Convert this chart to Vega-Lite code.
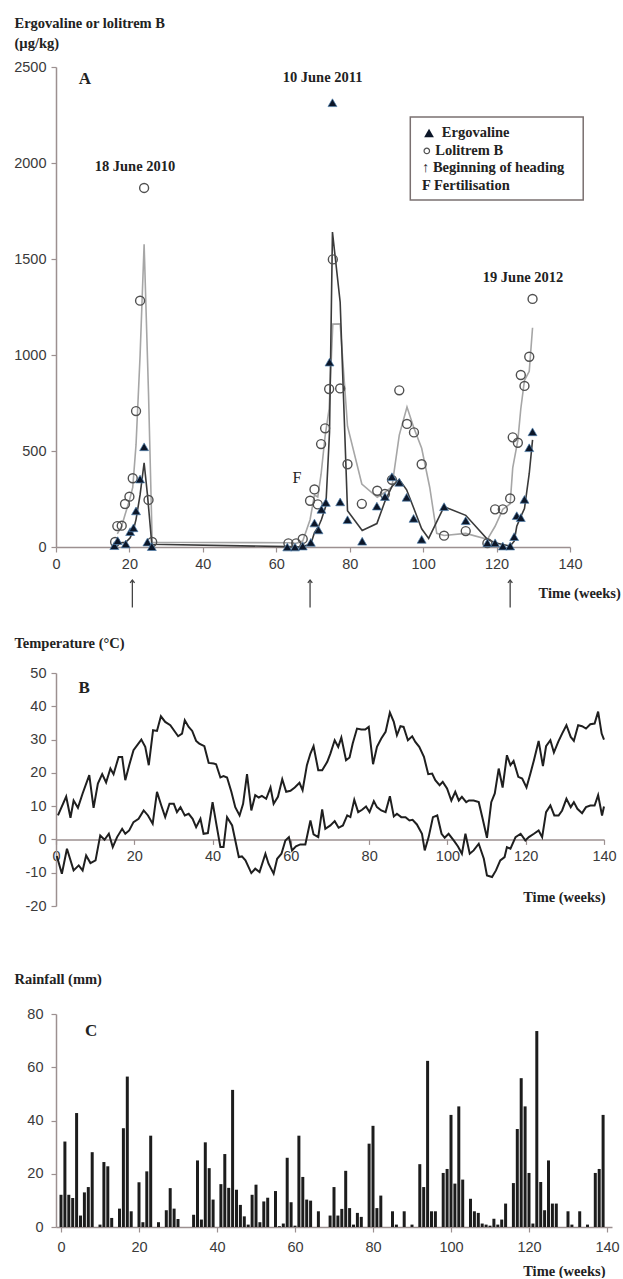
{
  "$schema": "https://vega.github.io/schema/vega-lite/v6.json",
  "background": "white",
  "padding": {"left": 13, "top": 15, "right": 0, "bottom": 0},
  "config": {
    "view": {"stroke": null},
    "axis": {
      "domainColor": "#9c9090", "tickColor": "#9c9090", "domainWidth": 1.5, "tickWidth": 1.2, "tickSize": 5,
      "labelFont": "Liberation Sans", "labelFontSize": 14.5, "labelColor": "#3a3a3a", "grid": false,
      "titleFont": "Liberation Serif", "titleFontSize": 14.5, "titleFontWeight": "bold", "titleColor": "#222222",
      "labelFlush": false, "labelOverlap": false, "labelPadding": 5,
      "labelExpr": "datum.value < 0 ? '-' + abs(datum.value) : '' + datum.value"
    },
    "text": {"font": "Liberation Serif", "fontSize": 14.5, "fontWeight": "bold", "color": "#222222"}
  },
  "datasets": {
    "ergoPts": [
      {"week":15.9,"value":7},{"week":16.8,"value":33},{"week":19.0,"value":16},{"week":20.2,"value":80},{"week":21.1,"value":100},{"week":21.8,"value":188},{"week":22.9,"value":354},{"week":24.0,"value":522},{"week":24.9,"value":26},{"week":26.1,"value":2},
      {"week":63.0,"value":0},{"week":65.1,"value":0},{"week":67.2,"value":5},{"week":69.4,"value":24},{"week":70.4,"value":125},{"week":71.5,"value":89},{"week":72.3,"value":196},{"week":73.5,"value":232},{"week":74.5,"value":963},{"week":75.3,"value":2314},{"week":77.4,"value":235},{"week":79.4,"value":142},{"week":83.4,"value":30},{"week":87.4,"value":213},{"week":89.6,"value":263},{"week":91.5,"value":366},{"week":93.5,"value":337},{"week":95.5,"value":259},{"week":97.4,"value":149},{"week":99.6,"value":40},{"week":105.7,"value":210},{"week":111.6,"value":137},{"week":117.5,"value":22},{"week":119.6,"value":22},{"week":121.7,"value":5},{"week":123.7,"value":5},{"week":124.8,"value":54},{"week":125.5,"value":163},{"week":126.6,"value":153},{"week":127.6,"value":248},{"week":128.9,"value":517},{"week":129.8,"value":600}
    ],
    "loliPts": [
      {"week":16.1,"value":26},{"week":16.7,"value":109},{"week":17.9,"value":111},{"week":18.8,"value":224},{"week":20.0,"value":262},{"week":20.9,"value":358},{"week":21.8,"value":708},{"week":22.9,"value":1283},{"week":24.0,"value":1870},{"week":25.2,"value":245},{"week":26.2,"value":26},
      {"week":63.3,"value":19},{"week":65.4,"value":19},{"week":67.2,"value":42},{"week":69.2,"value":241},{"week":70.4,"value":300},{"week":71.3,"value":222},{"week":72.2,"value":536},{"week":73.3,"value":618},{"week":74.4,"value":823},{"week":75.4,"value":1498},{"week":77.4,"value":826},{"week":79.4,"value":431},{"week":83.3,"value":225},{"week":87.5,"value":293},{"week":89.6,"value":276},{"week":91.5,"value":350},{"week":93.5,"value":816},{"week":95.6,"value":641},{"week":97.5,"value":597},{"week":99.6,"value":431},{"week":105.7,"value":59},{"week":111.6,"value":83},{"week":117.5,"value":20},{"week":119.6,"value":196},{"week":121.7,"value":196},{"week":123.7,"value":253},{"week":124.4,"value":571},{"week":125.8,"value":543},{"week":126.6,"value":896},{"week":127.6,"value":839},{"week":128.9,"value":991},{"week":129.8,"value":1292}
    ],
    "ergoLine": [
      {"week":16.8,"value":20},{"week":19.0,"value":25},{"week":20.2,"value":48},{"week":21.1,"value":90},{"week":21.8,"value":144},{"week":22.9,"value":271},{"week":24.0,"value":438},{"week":24.9,"value":274},{"week":26.1,"value":14},{"week":63.0,"value":2},{"week":65.1,"value":1},{"week":67.2,"value":3},{"week":69.4,"value":15},{"week":70.4,"value":75},{"week":71.5,"value":107},{"week":72.3,"value":143},{"week":73.5,"value":214},{"week":74.5,"value":598},{"week":75.3,"value":1640},{"week":77.4,"value":1275},{"week":79.4,"value":189},{"week":83.4,"value":86},{"week":87.4,"value":122},{"week":89.6,"value":238},{"week":91.5,"value":315},{"week":93.5,"value":352},{"week":95.5,"value":298},{"week":97.4,"value":204},{"week":99.6,"value":95},{"week":101.5,"value":45},{"week":105.7,"value":210},{"week":111.6,"value":165},{"week":117.5,"value":40},{"week":119.6,"value":22},{"week":121.7,"value":13},{"week":123.7,"value":5},{"week":124.8,"value":30},{"week":125.5,"value":108},{"week":126.6,"value":158},{"week":127.6,"value":200},{"week":128.9,"value":383},{"week":129.8,"value":558}
    ],
    "loliLine": [
      {"week":16.7,"value":68},{"week":17.9,"value":110},{"week":18.8,"value":168},{"week":20.0,"value":243},{"week":20.9,"value":310},{"week":21.8,"value":533},{"week":22.9,"value":996},{"week":24.0,"value":1577},{"week":25.2,"value":800},{"week":26.2,"value":25},{"week":63.3,"value":22},{"week":65.4,"value":19},{"week":67.2,"value":31},{"week":69.2,"value":142},{"week":70.4,"value":271},{"week":71.3,"value":261},{"week":72.2,"value":379},{"week":73.3,"value":577},{"week":74.4,"value":721},{"week":75.4,"value":1161},{"week":77.4,"value":1162},{"week":79.4,"value":629},{"week":83.3,"value":328},{"week":87.5,"value":259},{"week":89.6,"value":285},{"week":91.5,"value":313},{"week":93.5,"value":583},{"week":95.6,"value":729},{"week":97.5,"value":619},{"week":99.6,"value":514},{"week":101.8,"value":310},{"week":103.7,"value":71},{"week":105.7,"value":60},{"week":111.6,"value":71},{"week":117.5,"value":40},{"week":119.6,"value":108},{"week":121.7,"value":196},{"week":123.7,"value":225},{"week":124.4,"value":412},{"week":125.8,"value":557},{"week":126.6,"value":720},{"week":127.6,"value":868},{"week":128.9,"value":915},{"week":129.8,"value":1142}
    ],
    "datesA": [
      {"week":21.5,"value":1979,"label":"18 June 2010"},
      {"week":72.6,"value":2443,"label":"10 June 2011"},
      {"week":127.2,"value":1399,"label":"19 June 2012"}
    ],
    "panelA": [{"week":7.9,"value":2438,"label":"A"}],
    "fertA": [{"week":65.6,"value":358,"label":"F"}],
    "arrowsA": [{"week":20.8,"value":-172,"value2":-315},{"week":69.2,"value":-172,"value2":-315},{"week":123.7,"value":-172,"value2":-315}],
    "legendBox": [{"week":96.5,"week2":143.6,"value":1807,"value2":2240}],
    "legendText": [
      {"week":105.1,"value":2156,"label":"Ergovaline"},
      {"week":103.3,"value":2063,"label":"Lolitrem B"},
      {"week":99.7,"value":1974,"label":"↑ Beginning of heading"},
      {"week":99.7,"value":1880,"label":"F Fertilisation"}
    ],
    "legendTri": [{"week":101.6,"value":2156}],
    "legendCirc": [{"week":101.0,"value":2063}],
    "panelB": [{"week":7.2,"value":45.5,"label":"B"}],
    "panelC": [{"week":7.7,"value":73.7,"label":"C"}],
    "temp": [
      {"week":0.5,"value":7.2,"series":"max"},{"week":2.6,"value":12.9,"series":"max"},{"week":3.7,"value":6.5,"series":"max"},{"week":4.5,"value":11.7,"series":"max"},{"week":5.6,"value":9.5,"series":"max"},{"week":6.8,"value":13.8,"series":"max"},{"week":8.5,"value":19.3,"series":"max"},{"week":9.6,"value":9.5,"series":"max"},{"week":10.7,"value":16.8,"series":"max"},{"week":11.8,"value":19.6,"series":"max"},{"week":12.8,"value":17.1,"series":"max"},{"week":13.9,"value":21.3,"series":"max"},{"week":14.7,"value":19.6,"series":"max"},{"week":16.0,"value":24.8,"series":"max"},{"week":16.9,"value":24.8,"series":"max"},{"week":17.7,"value":17.8,"series":"max"},{"week":18.7,"value":22.3,"series":"max"},{"week":19.8,"value":26.8,"series":"max"},{"week":21.8,"value":30.0,"series":"max"},{"week":22.8,"value":27.8,"series":"max"},{"week":23.7,"value":22.3,"series":"max"},{"week":24.8,"value":32.8,"series":"max"},{"week":25.8,"value":32.6,"series":"max"},{"week":26.8,"value":37.0,"series":"max"},{"week":27.9,"value":35.3,"series":"max"},{"week":29.2,"value":34.3,"series":"max"},{"week":31.2,"value":31.0,"series":"max"},{"week":32.2,"value":31.8,"series":"max"},{"week":32.9,"value":35.8,"series":"max"},{"week":33.9,"value":33.8,"series":"max"},{"week":34.8,"value":32.6,"series":"max"},{"week":35.8,"value":29.6,"series":"max"},{"week":36.6,"value":28.8,"series":"max"},{"week":37.9,"value":28.0,"series":"max"},{"week":39.0,"value":23.0,"series":"max"},{"week":40.3,"value":22.8,"series":"max"},{"week":40.9,"value":22.6,"series":"max"},{"week":42.0,"value":18.6,"series":"max"},{"week":42.8,"value":19.0,"series":"max"},{"week":43.7,"value":18.6,"series":"max"},{"week":44.8,"value":14.3,"series":"max"},{"week":45.8,"value":9.7,"series":"max"},{"week":46.9,"value":7.2,"series":"max"},{"week":47.8,"value":10.7,"series":"max"},{"week":48.8,"value":19.6,"series":"max"},{"week":49.9,"value":8.7,"series":"max"},{"week":50.9,"value":13.3,"series":"max"},{"week":51.8,"value":12.6,"series":"max"},{"week":52.6,"value":13.1,"series":"max"},{"week":53.7,"value":12.2,"series":"max"},{"week":54.8,"value":15.6,"series":"max"},{"week":55.6,"value":10.7,"series":"max"},{"week":56.7,"value":12.8,"series":"max"},{"week":57.8,"value":18.1,"series":"max"},{"week":58.8,"value":14.3,"series":"max"},{"week":59.9,"value":14.6,"series":"max"},{"week":61.0,"value":15.6,"series":"max"},{"week":62.2,"value":17.0,"series":"max"},{"week":63.0,"value":14.8,"series":"max"},{"week":64.1,"value":22.3,"series":"max"},{"week":65.0,"value":25.8,"series":"max"},{"week":65.8,"value":28.0,"series":"max"},{"week":67.0,"value":20.8,"series":"max"},{"week":68.0,"value":20.8,"series":"max"},{"week":69.3,"value":23.3,"series":"max"},{"week":70.1,"value":25.8,"series":"max"},{"week":71.2,"value":29.8,"series":"max"},{"week":72.1,"value":27.8,"series":"max"},{"week":72.9,"value":30.6,"series":"max"},{"week":74.1,"value":23.8,"series":"max"},{"week":75.0,"value":24.6,"series":"max"},{"week":75.8,"value":28.8,"series":"max"},{"week":76.9,"value":33.3,"series":"max"},{"week":78.0,"value":33.0,"series":"max"},{"week":79.0,"value":33.0,"series":"max"},{"week":79.9,"value":33.8,"series":"max"},{"week":81.0,"value":22.6,"series":"max"},{"week":82.0,"value":27.8,"series":"max"},{"week":83.1,"value":30.3,"series":"max"},{"week":84.2,"value":32.3,"series":"max"},{"week":85.3,"value":38.1,"series":"max"},{"week":86.3,"value":35.3,"series":"max"},{"week":87.1,"value":31.3,"series":"max"},{"week":88.0,"value":34.0,"series":"max"},{"week":88.8,"value":33.8,"series":"max"},{"week":89.9,"value":29.8,"series":"max"},{"week":91.0,"value":31.0,"series":"max"},{"week":91.8,"value":29.3,"series":"max"},{"week":92.8,"value":27.8,"series":"max"},{"week":94.0,"value":24.8,"series":"max"},{"week":95.1,"value":19.6,"series":"max"},{"week":96.1,"value":19.8,"series":"max"},{"week":96.9,"value":17.8,"series":"max"},{"week":98.0,"value":16.3,"series":"max"},{"week":98.8,"value":17.3,"series":"max"},{"week":99.9,"value":15.3,"series":"max"},{"week":101.0,"value":11.7,"series":"max"},{"week":102.0,"value":14.3,"series":"max"},{"week":102.9,"value":11.7,"series":"max"},{"week":103.7,"value":12.8,"series":"max"},{"week":104.8,"value":11.2,"series":"max"},{"week":105.5,"value":11.7,"series":"max"},{"week":106.7,"value":11.7,"series":"max"},{"week":108.0,"value":11.2,"series":"max"},{"week":109.0,"value":6.2,"series":"max"},{"week":110.1,"value":0.5,"series":"max"},{"week":111.2,"value":11.2,"series":"max"},{"week":112.1,"value":13.8,"series":"max"},{"week":113.1,"value":21.3,"series":"max"},{"week":114.1,"value":15.6,"series":"max"},{"week":115.2,"value":25.3,"series":"max"},{"week":116.1,"value":22.3,"series":"max"},{"week":116.9,"value":23.6,"series":"max"},{"week":118.1,"value":18.8,"series":"max"},{"week":119.1,"value":18.3,"series":"max"},{"week":120.2,"value":15.6,"series":"max"},{"week":121.2,"value":19.8,"series":"max"},{"week":122.1,"value":23.8,"series":"max"},{"week":123.3,"value":29.6,"series":"max"},{"week":124.4,"value":22.0,"series":"max"},{"week":125.2,"value":28.0,"series":"max"},{"week":126.3,"value":29.8,"series":"max"},{"week":127.2,"value":26.1,"series":"max"},{"week":128.3,"value":29.3,"series":"max"},{"week":129.3,"value":31.8,"series":"max"},{"week":130.4,"value":34.3,"series":"max"},{"week":131.5,"value":30.8,"series":"max"},{"week":132.3,"value":29.6,"series":"max"},{"week":133.4,"value":34.3,"series":"max"},{"week":134.4,"value":34.0,"series":"max"},{"week":135.4,"value":33.3,"series":"max"},{"week":136.5,"value":34.6,"series":"max"},{"week":137.6,"value":34.8,"series":"max"},{"week":138.5,"value":38.4,"series":"max"},{"week":139.4,"value":31.8,"series":"max"},{"week":140.0,"value":30.0,"series":"max"},
      {"week":0.2,"value":-5.0,"series":"min"},{"week":1.5,"value":-10.3,"series":"min"},{"week":2.8,"value":-2.8,"series":"min"},{"week":4.5,"value":-9.3,"series":"min"},{"week":5.8,"value":-7.8,"series":"min"},{"week":6.8,"value":-9.3,"series":"min"},{"week":7.7,"value":-4.8,"series":"min"},{"week":8.8,"value":-7.1,"series":"min"},{"week":10.1,"value":-6.3,"series":"min"},{"week":11.3,"value":1.2,"series":"min"},{"week":12.4,"value":-0.1,"series":"min"},{"week":13.5,"value":1.7,"series":"min"},{"week":14.5,"value":-2.3,"series":"min"},{"week":15.6,"value":0.7,"series":"min"},{"week":16.9,"value":3.2,"series":"min"},{"week":17.7,"value":1.7,"series":"min"},{"week":18.7,"value":2.7,"series":"min"},{"week":19.8,"value":5.2,"series":"min"},{"week":21.1,"value":6.2,"series":"min"},{"week":22.4,"value":8.7,"series":"min"},{"week":23.5,"value":7.2,"series":"min"},{"week":24.7,"value":4.7,"series":"min"},{"week":25.8,"value":14.3,"series":"min"},{"week":26.9,"value":10.2,"series":"min"},{"week":27.9,"value":6.7,"series":"min"},{"week":29.0,"value":10.7,"series":"min"},{"week":30.1,"value":10.7,"series":"min"},{"week":30.9,"value":8.2,"series":"min"},{"week":31.8,"value":9.7,"series":"min"},{"week":32.9,"value":7.2,"series":"min"},{"week":33.9,"value":7.7,"series":"min"},{"week":34.9,"value":6.2,"series":"min"},{"week":35.8,"value":3.7,"series":"min"},{"week":36.9,"value":6.2,"series":"min"},{"week":37.7,"value":1.7,"series":"min"},{"week":38.8,"value":1.9,"series":"min"},{"week":40.0,"value":11.2,"series":"min"},{"week":41.1,"value":3.7,"series":"min"},{"week":42.0,"value":-2.3,"series":"min"},{"week":42.8,"value":-2.3,"series":"min"},{"week":43.7,"value":6.7,"series":"min"},{"week":45.0,"value":4.2,"series":"min"},{"week":46.7,"value":-5.3,"series":"min"},{"week":47.5,"value":-5.1,"series":"min"},{"week":48.4,"value":-6.3,"series":"min"},{"week":49.9,"value":-10.1,"series":"min"},{"week":50.9,"value":-8.8,"series":"min"},{"week":52.0,"value":-9.8,"series":"min"},{"week":53.5,"value":-4.3,"series":"min"},{"week":54.3,"value":-7.3,"series":"min"},{"week":55.6,"value":-10.3,"series":"min"},{"week":56.5,"value":-5.8,"series":"min"},{"week":57.6,"value":-4.3,"series":"min"},{"week":58.6,"value":-0.3,"series":"min"},{"week":59.5,"value":0.7,"series":"min"},{"week":60.3,"value":-3.3,"series":"min"},{"week":61.3,"value":-2.1,"series":"min"},{"week":62.4,"value":-1.5,"series":"min"},{"week":63.7,"value":-1.5,"series":"min"},{"week":65.0,"value":5.7,"series":"min"},{"week":65.8,"value":1.5,"series":"min"},{"week":67.0,"value":0.7,"series":"min"},{"week":68.0,"value":9.0,"series":"min"},{"week":68.8,"value":3.2,"series":"min"},{"week":70.1,"value":4.2,"series":"min"},{"week":71.2,"value":5.5,"series":"min"},{"week":72.2,"value":3.5,"series":"min"},{"week":73.3,"value":4.2,"series":"min"},{"week":74.4,"value":7.2,"series":"min"},{"week":75.2,"value":6.7,"series":"min"},{"week":76.2,"value":11.9,"series":"min"},{"week":77.2,"value":8.2,"series":"min"},{"week":78.2,"value":8.9,"series":"min"},{"week":79.2,"value":9.9,"series":"min"},{"week":80.1,"value":8.2,"series":"min"},{"week":81.2,"value":11.5,"series":"min"},{"week":82.0,"value":9.7,"series":"min"},{"week":83.1,"value":8.7,"series":"min"},{"week":84.2,"value":8.2,"series":"min"},{"week":85.3,"value":13.0,"series":"min"},{"week":86.3,"value":6.9,"series":"min"},{"week":87.1,"value":7.7,"series":"min"},{"week":88.2,"value":6.7,"series":"min"},{"week":89.3,"value":6.7,"series":"min"},{"week":90.3,"value":5.7,"series":"min"},{"week":91.1,"value":5.9,"series":"min"},{"week":92.2,"value":4.5,"series":"min"},{"week":93.5,"value":1.7,"series":"min"},{"week":94.2,"value":-3.3,"series":"min"},{"week":95.2,"value":0.7,"series":"min"},{"week":96.3,"value":6.7,"series":"min"},{"week":97.4,"value":7.2,"series":"min"},{"week":98.5,"value":1.7,"series":"min"},{"week":99.3,"value":0.5,"series":"min"},{"week":100.3,"value":1.7,"series":"min"},{"week":101.6,"value":-0.3,"series":"min"},{"week":102.7,"value":-2.1,"series":"min"},{"week":103.7,"value":-4.3,"series":"min"},{"week":104.6,"value":1.7,"series":"min"},{"week":105.7,"value":-4.3,"series":"min"},{"week":106.7,"value":-3.3,"series":"min"},{"week":108.0,"value":-1.3,"series":"min"},{"week":109.3,"value":-5.8,"series":"min"},{"week":110.1,"value":-10.8,"series":"min"},{"week":111.4,"value":-11.3,"series":"min"},{"week":112.4,"value":-9.3,"series":"min"},{"week":113.5,"value":-6.3,"series":"min"},{"week":114.6,"value":-5.3,"series":"min"},{"week":115.2,"value":-2.3,"series":"min"},{"week":116.1,"value":-2.8,"series":"min"},{"week":117.4,"value":0.7,"series":"min"},{"week":118.7,"value":1.7,"series":"min"},{"week":119.9,"value":-0.3,"series":"min"},{"week":120.8,"value":0.7,"series":"min"},{"week":122.1,"value":1.7,"series":"min"},{"week":123.3,"value":2.7,"series":"min"},{"week":124.2,"value":0.7,"series":"min"},{"week":125.2,"value":8.2,"series":"min"},{"week":126.3,"value":10.2,"series":"min"},{"week":127.3,"value":7.2,"series":"min"},{"week":128.4,"value":7.2,"series":"min"},{"week":129.3,"value":8.7,"series":"min"},{"week":130.4,"value":12.2,"series":"min"},{"week":131.5,"value":9.7,"series":"min"},{"week":132.3,"value":11.2,"series":"min"},{"week":133.2,"value":9.2,"series":"min"},{"week":134.4,"value":7.9,"series":"min"},{"week":135.4,"value":9.7,"series":"min"},{"week":136.5,"value":10.2,"series":"min"},{"week":137.6,"value":10.2,"series":"min"},{"week":138.5,"value":13.3,"series":"min"},{"week":139.5,"value":7.2,"series":"min"},{"week":140.0,"value":9.9,"series":"min"}
    ],
    "rain": [
      {"week":0,"value":12.1},{"week":1,"value":32.1},{"week":2,"value":12.1},{"week":3,"value":10.9},{"week":4,"value":42.8},{"week":5,"value":4.3},{"week":6,"value":13},{"week":7,"value":15},{"week":8,"value":28.1},{"week":10,"value":0.9},{"week":11,"value":24.4},{"week":12,"value":22.8},{"week":13,"value":3.4},{"week":15,"value":6.9},{"week":16,"value":37.1},{"week":17,"value":56.5},{"week":18,"value":5.9},{"week":20,"value":16.8},{"week":21,"value":1.8},{"week":22,"value":20.9},{"week":23,"value":34.3},{"week":25,"value":1.8},{"week":27,"value":6.3},{"week":28,"value":14.6},{"week":29,"value":6.9},{"week":30,"value":3},{"week":34,"value":4.6},{"week":35,"value":25},{"week":36,"value":2.8},{"week":37,"value":31.8},{"week":38,"value":22.1},{"week":39,"value":10.3},{"week":41,"value":16.1},{"week":42,"value":27.4},{"week":43,"value":14.7},{"week":44,"value":51.5},{"week":45,"value":14},{"week":46,"value":8.3},{"week":47,"value":4},{"week":48,"value":0.9},{"week":49,"value":12.1},{"week":50,"value":15.9},{"week":51,"value":1.8},{"week":52,"value":9.6},{"week":53,"value":11},{"week":55,"value":13.5},{"week":56,"value":0.3},{"week":57,"value":1.3},{"week":58,"value":26},{"week":59,"value":9.3},{"week":60,"value":0.5},{"week":61,"value":34.3},{"week":62,"value":18.8},{"week":63,"value":10.3},{"week":64,"value":9.9},{"week":66,"value":5.9},{"week":69,"value":4.3},{"week":70,"value":15},{"week":71,"value":4.3},{"week":72,"value":6.8},{"week":73,"value":21.1},{"week":74,"value":7.1},{"week":75,"value":0.9},{"week":76,"value":5.3},{"week":77,"value":3.8},{"week":79,"value":31.3},{"week":80,"value":38},{"week":81,"value":7.1},{"week":82,"value":11.8},{"week":85,"value":5.9},{"week":86,"value":0.9},{"week":88,"value":5.9},{"week":90,"value":0.9},{"week":92,"value":23.6},{"week":93,"value":15},{"week":94,"value":62.4},{"week":95,"value":5.9},{"week":96,"value":5.9},{"week":98,"value":20.3},{"week":99,"value":21.8},{"week":100,"value":42.1},{"week":101,"value":16.3},{"week":102,"value":45.3},{"week":103,"value":17.8},{"week":105,"value":10.6},{"week":106,"value":5.9},{"week":107,"value":5.3},{"week":108,"value":1.3},{"week":109,"value":0.9},{"week":110,"value":0.5},{"week":111,"value":3.1},{"week":112,"value":0.9},{"week":113,"value":2.8},{"week":114,"value":8.8},{"week":116,"value":16.5},{"week":117,"value":36.8},{"week":118,"value":55.9},{"week":119,"value":45.3},{"week":120,"value":20.3},{"week":121,"value":1.3},{"week":122,"value":73.6},{"week":123,"value":16.9},{"week":124,"value":6.3},{"week":125,"value":25},{"week":126,"value":8.8},{"week":127,"value":8.8},{"week":130,"value":5.9},{"week":131,"value":0.9},{"week":133,"value":5.9},{"week":135,"value":0.9},{"week":137,"value":20.3},{"week":138,"value":21.8},{"week":139,"value":42.1}
    ]
  },
  "bounds": "flush",
  "spacing": 126,
  "vconcat": [
    {
      "width": 514,
      "height": 480,
      "encoding": {
        "x": {"field": "week", "type": "quantitative", "scale": {"domain": [0, 140], "nice": false},
              "axis": {"values": [0,20,40,60,80,100,120,140], "title": "Time (weeks)", "titleX": 482, "titleY": 46, "titleAlign": "left", "titleBaseline": "middle"}},
        "y": {"field": "value", "type": "quantitative", "scale": {"domain": [0, 2500], "nice": false},
              "axis": {"values": [0,500,1000,1500,2000,2500], "title": ["Ergovaline or lolitrem B", "(µg/kg)"], "titleAngle": 0, "titleAlign": "left", "titleBaseline": "alphabetic", "titleX": -42, "titleY": -40, "titleLineHeight": 20}}
      },
      "layer": [
        {"data": {"name": "loliLine"}, "mark": {"type": "line", "color": "#a6a6a6", "strokeWidth": 1.6}},
        {"data": {"name": "ergoLine"}, "mark": {"type": "line", "color": "#3a3a3a", "strokeWidth": 1.6}},
        {"data": {"name": "loliPts"}, "mark": {"type": "point", "shape": "circle", "filled": false, "stroke": "#505050", "strokeWidth": 1.4, "size": 80, "opacity": 1}},
        {"data": {"name": "ergoPts"}, "mark": {"type": "point", "shape": "triangle-up", "filled": true, "fill": "#0c1628", "stroke": "#4f7fae", "strokeWidth": 0.7, "size": 80, "opacity": 1}},
        {"data": {"name": "datesA"}, "mark": {"type": "text", "align": "center", "baseline": "middle"}, "encoding": {"text": {"field": "label"}}},
        {"data": {"name": "panelA"}, "mark": {"type": "text", "align": "center", "baseline": "middle", "fontSize": 17}, "encoding": {"text": {"field": "label"}}},
        {"data": {"name": "fertA"}, "mark": {"type": "text", "align": "center", "baseline": "middle", "fontSize": 16, "fontWeight": "normal"}, "encoding": {"text": {"field": "label"}}},
        {"data": {"name": "arrowsA"}, "mark": {"type": "rule", "color": "#444444", "strokeWidth": 1.3}, "encoding": {"y2": {"field": "value2"}}},
        {"data": {"name": "arrowsA"}, "mark": {"type": "point", "shape": "M-0.5,0.65 L0,0 L0.5,0.65", "filled": false, "stroke": "#444444", "strokeWidth": 1.3, "size": 80, "opacity": 1}},
        {"data": {"name": "legendBox"}, "mark": {"type": "rect", "fill": "white", "stroke": "#7a7070", "strokeWidth": 1.5}, "encoding": {"x2": {"field": "week2"}, "y2": {"field": "value2"}}},
        {"data": {"name": "legendText"}, "mark": {"type": "text", "align": "left", "baseline": "middle"}, "encoding": {"text": {"field": "label"}}},
        {"data": {"name": "legendTri"}, "mark": {"type": "point", "shape": "triangle-up", "filled": true, "fill": "#0c1628", "size": 95, "opacity": 1}},
        {"data": {"name": "legendCirc"}, "mark": {"type": "point", "shape": "circle", "filled": false, "stroke": "#505050", "strokeWidth": 1.2, "size": 30, "opacity": 1}}
      ]
    },
    {
      "bounds": "flush",
      "spacing": 108,
      "vconcat": [
        {
          "width": 548,
          "height": 233,
          "encoding": {
            "x": {"field": "week", "type": "quantitative", "scale": {"domain": [0, 140], "nice": false},
                  "axis": {"values": [0,20,40,60,80,100,120,140], "offset": -66.6, "title": "Time (weeks)", "titleX": 549, "titleY": 58, "titleAlign": "right", "titleBaseline": "middle"}},
            "y": {"field": "value", "type": "quantitative", "scale": {"domain": [-20, 50], "nice": false},
                  "axis": {"values": [-20,-10,0,10,20,30,40,50], "title": "Temperature (°C)", "titleAngle": 0, "titleAlign": "left", "titleBaseline": "alphabetic", "titleX": -42, "titleY": -26}}
          },
          "layer": [
            {"data": {"name": "temp"}, "mark": {"type": "line", "color": "#1f1f1f", "strokeWidth": 2}, "encoding": {"detail": {"field": "series"}}},
            {"data": {"name": "panelB"}, "mark": {"type": "text", "align": "center", "baseline": "middle", "fontSize": 17}, "encoding": {"text": {"field": "label"}}}
          ]
        },
        {
          "width": 556,
          "height": 213,
          "encoding": {
            "x": {"field": "week", "type": "quantitative", "scale": {"domain": [0, 140], "nice": false},
                  "axis": {"values": [0,20,40,60,80,100,120,140], "labelPadding": 8, "title": "Time (weeks)", "titleX": 549, "titleY": 44, "titleAlign": "right", "titleBaseline": "middle"}},
            "y": {"field": "value", "type": "quantitative", "scale": {"domain": [0, 80], "nice": false},
                  "axis": {"values": [0,20,40,60,80], "labelPadding": 8, "title": "Rainfall (mm)", "titleAngle": 0, "titleAlign": "left", "titleBaseline": "alphabetic", "titleX": -42, "titleY": -31}}
          },
          "layer": [
            {"data": {"name": "rain"}, "mark": {"type": "bar", "orient": "vertical", "size": 3, "color": "#1c1c1c"}},
            {"data": {"name": "panelC"}, "mark": {"type": "text", "align": "center", "baseline": "middle", "fontSize": 17}, "encoding": {"text": {"field": "label"}}}
          ]
        }
      ]
    }
  ]
}
